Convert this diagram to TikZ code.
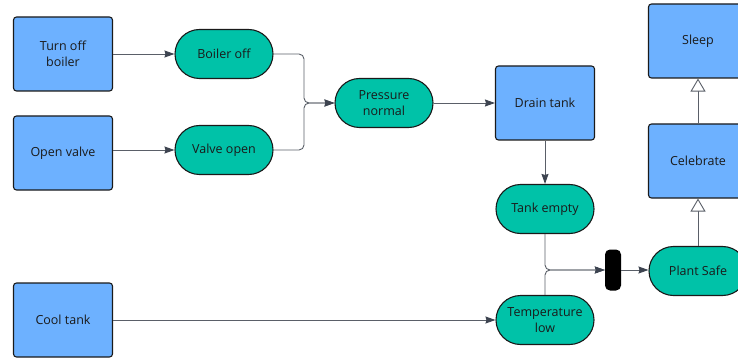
\documentclass[tikz,border=0pt]{standalone}
\usepackage{fontspec}
\setmainfont{Open Sans}
\usetikzlibrary{positioning,arrows.meta}
\definecolor{boxblue}{HTML}{6DB1FF}
\definecolor{stategreen}{HTML}{00C2A8}
\definecolor{linegray}{HTML}{5A5F68}
\definecolor{tipgray}{HTML}{3D4450}
\definecolor{edgeblack}{HTML}{1A1A1A}

\begin{document}
\begin{tikzpicture}[
					x=1pt, y=-1pt,
					font=\fontsize{12.5}{15.5}\selectfont,
					action/.style={rectangle, rounded corners=3pt, draw=edgeblack, line width=1.1pt, fill=boxblue, minimum width=99pt, minimum height=74pt, align=center, text=edgeblack},
					state/.style={rectangle, rounded corners=24.5pt, draw=edgeblack, line width=1.1pt, fill=stategreen, minimum width=98pt, minimum height=49pt, align=center, text=edgeblack},
					joinbar/.style={rectangle, rounded corners=5pt, fill=black, minimum width=16pt, minimum height=41pt, inner sep=0pt},
					conn/.style={draw=linegray, line width=0.9pt, -{Stealth[length=10pt,width=7pt,inset=1pt,color=tipgray]}},
					refine/.style={draw=linegray, line width=0.9pt, -{Triangle[open,length=13pt,width=15pt,fill=white,color=linegray]}}
				]
				\useasboundingbox (0,0) rectangle (738,358);
				% actions
				\node[action] (turnoff) at (63,54) {Turn off\\boiler};
				\node[action] (openvalve) at (63,153) {Open valve};
				\node[action] (cooltank) at (63,320) {Cool tank};
				\node[action] (draintank) at (545,103) {Drain tank};
				\node[action] (celebrate) at (698,161) {Celebrate};
				\node[action] (sleep) at (698,41) {Sleep};
				% states
				\node[state] (boileroff) at (224,54) {Boiler off};
				\node[state] (valveopen) at (224,150) {Valve open};
				\node[state] (pressure) at (384,103) {Pressure\\normal};
				\node[state] (tankempty) at (545,209) {Tank empty};
				\node[state] (templow) at (545,320) {Temperature\\low};
				\node[state] (plantsafe) at (698,271) {Plant Safe};
				\node[joinbar] (sync) at (613,270) {};
				\coordinate (merge) at (304,103);
				\draw[conn] (turnoff.east |- boileroff) -- (boileroff.west);
				\draw[conn] (openvalve.east |- valveopen) -- (valveopen.west);
				\begin{scope}[rounded corners=5pt]
				\draw[conn] (boileroff.east) -| (merge) -- (pressure.west);
				\draw[conn] (valveopen.east) -| (merge) -- (pressure.west);
				\draw[conn] (tankempty.south) |- (sync.west);
				\draw[conn] (templow.north) |- (sync.west);
				\end{scope}
				\draw[conn] (pressure.east) -- (draintank.west);
				\draw[conn] (draintank.south) -- (tankempty.north);
				\draw[conn] (cooltank.east) -- (templow.west);
				\draw[conn] (sync.east) -- (sync.east -| plantsafe.west);
				\draw[refine] (plantsafe.north) -- (celebrate.south);
				\draw[refine] (celebrate.north) -- (sleep.south);
				\end{tikzpicture}
\end{document}
